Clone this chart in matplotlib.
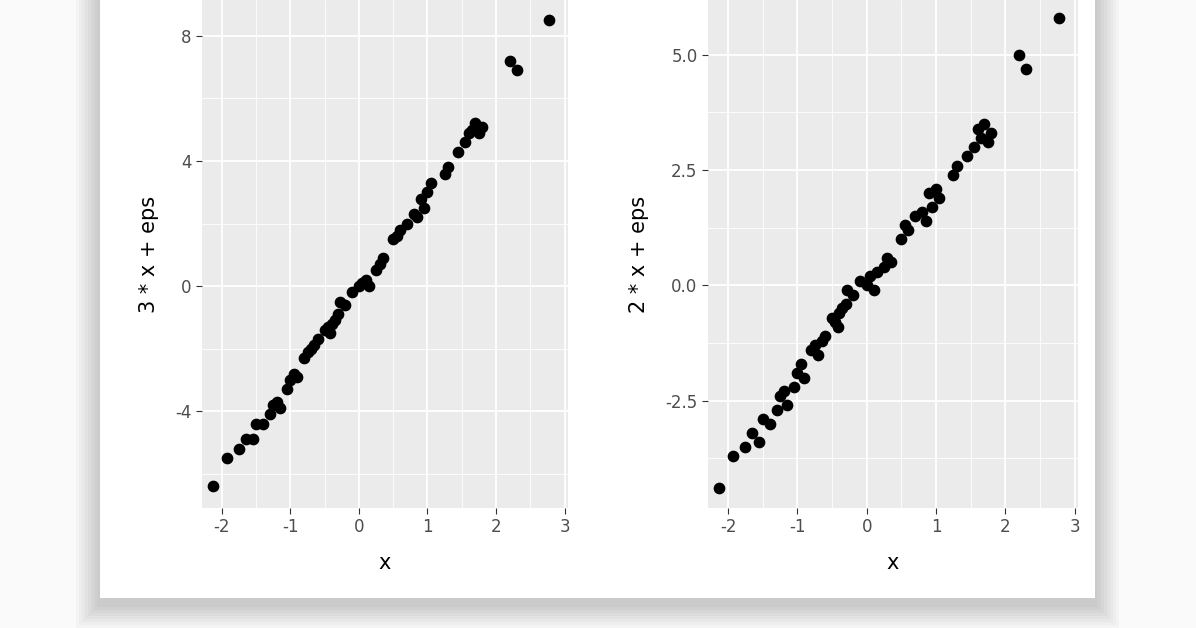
import matplotlib.pyplot as plt
from matplotlib.patches import Rectangle
from matplotlib.ticker import MultipleLocator, FormatStrFormatter

plt.rcParams['axes.unicode_minus'] = False

x = [-2.13, -1.93, -1.75, -1.65, -1.55, -1.5, -1.4, -1.3, -1.25, -1.2, -1.15, -1.05, -1.0,
     -0.95, -0.9, -0.8, -0.75, -0.7, -0.65, -0.6, -0.5, -0.45, -0.4, -0.42, -0.35, -0.3,
     -0.28, -0.2, -0.1, 0.0, 0.05, 0.1, 0.15, 0.25, 0.3, 0.35, 0.5, 0.55, 0.6, 0.7, 0.8,
     0.85, 0.9, 0.95, 1.0, 1.05, 1.25, 1.3, 1.45, 1.55, 1.6, 1.65, 1.7, 1.75, 1.8, 2.2,
     2.3, 2.78]
y3 = [-6.4, -5.5, -5.2, -4.9, -4.9, -4.4, -4.4, -4.1, -3.8, -3.7, -3.9, -3.3, -3.0,
      -2.8, -2.9, -2.3, -2.1, -2.0, -1.9, -1.7, -1.4, -1.3, -1.2, -1.5, -1.1, -0.9,
      -0.5, -0.6, -0.2, 0.0, 0.1, 0.2, 0.0, 0.5, 0.7, 0.9, 1.5, 1.6, 1.8, 2.0, 2.3,
      2.2, 2.8, 2.5, 3.0, 3.3, 3.6, 3.8, 4.3, 4.6, 4.9, 5.0, 5.2, 4.9, 5.1, 7.2,
      6.9, 8.5]
y2 = [-4.4, -3.7, -3.5, -3.2, -3.4, -2.9, -3.0, -2.7, -2.4, -2.3, -2.6, -2.2, -1.9,
      -1.7, -2.0, -1.4, -1.3, -1.5, -1.2, -1.1, -0.7, -0.8, -0.6, -0.9, -0.5, -0.4,
      -0.1, -0.2, 0.1, 0.0, 0.2, -0.1, 0.3, 0.4, 0.6, 0.5, 1.0, 1.3, 1.2, 1.5, 1.6,
      1.4, 2.0, 1.7, 2.1, 1.9, 2.4, 2.6, 2.8, 3.0, 3.4, 3.2, 3.5, 3.1, 3.3, 5.0,
      4.7, 5.8]

fig = plt.figure(figsize=(11.96, 6.28), dpi=100, facecolor='#fafafa')
# soft card shadow + card
for i in range(8):
    d = (8 - i) * 3
    fig.patches.append(Rectangle(((100 - d) / 1196, (30 - d - 6) / 628),
                                 (995 + 2 * d) / 1196, 1.2, transform=fig.transFigure,
                                 color='black', alpha=0.025, lw=0, zorder=-3))
fig.patches.append(Rectangle((100 / 1196, 30 / 628), 995 / 1196, 1.0,
                             transform=fig.transFigure, color='white', lw=0, zorder=-2))

panels = [
    ([202 / 1196, 0.191, 366 / 1196, 0.809], y3, '3 * x + eps', (-7.1, 9.15), 4, 2, '%d'),
    ([708 / 1196, 0.191, 370 / 1196, 0.809], y2, '2 * x + eps', (-4.83, 6.19), 2.5, 1.25, '%.1f'),
]
for pos, yy, lab, ylim, maj, mnr, fmt in panels:
    ax = fig.add_axes(pos)
    ax.set_facecolor('#EBEBEB')
    ax.scatter(x, yy, s=55, color='black', zorder=3)
    ax.set_xlim(-2.29, 3.05)
    ax.set_ylim(*ylim)
    ax.xaxis.set_major_locator(MultipleLocator(1))
    ax.xaxis.set_minor_locator(MultipleLocator(0.5))
    ax.yaxis.set_major_locator(MultipleLocator(maj))
    ax.yaxis.set_minor_locator(MultipleLocator(mnr))
    ax.yaxis.set_major_formatter(FormatStrFormatter(fmt))
    ax.grid(which='major', color='white', lw=1.3)
    ax.grid(which='minor', color='white', lw=0.6)
    ax.set_axisbelow(True)
    for s in ax.spines.values():
        s.set_visible(False)
    ax.tick_params(which='major', length=4, color='#333333', labelsize=12, labelcolor='#4D4D4D')
    ax.tick_params(which='minor', length=0)
    ax.set_xlabel('x', fontsize=15, labelpad=12)
    ax.set_ylabel(lab, fontsize=15, labelpad=12)

fig.savefig('out.png', dpi=100, facecolor=fig.get_facecolor())
